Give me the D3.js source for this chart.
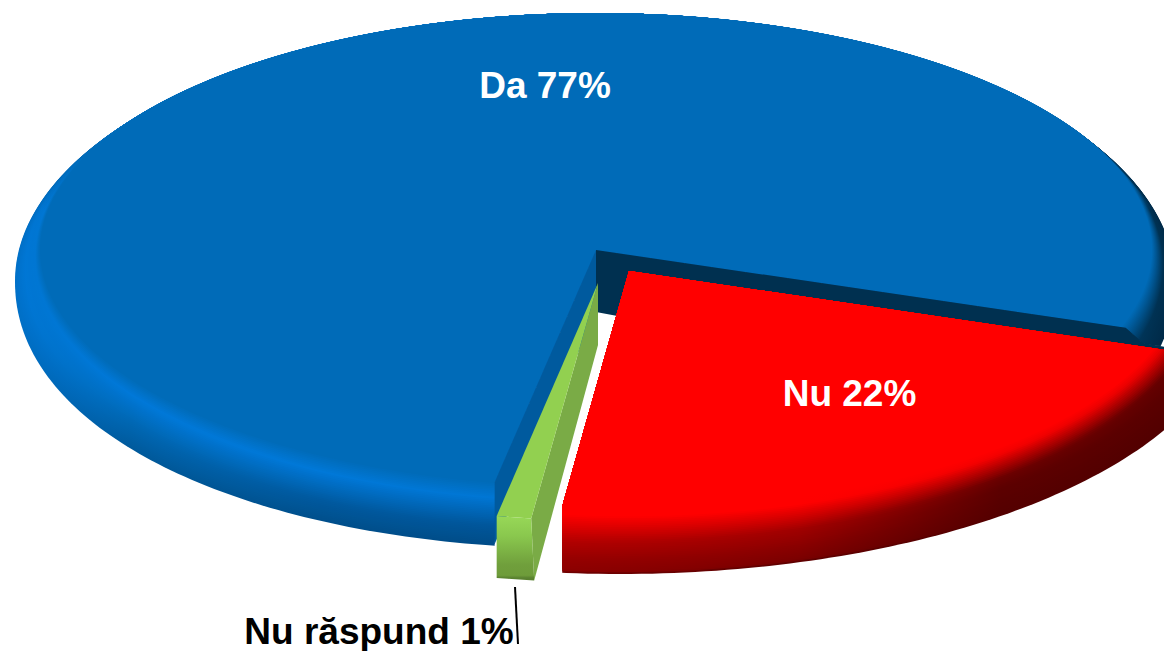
<!DOCTYPE html>
<html>
<head>
<meta charset="utf-8">
<script src="https://cdn.jsdelivr.net/npm/d3@7"></script>
<style>
html,body{margin:0;padding:0;background:#fff;overflow:hidden}
svg{display:block}
text{font-family:"Liberation Sans",Arial,sans-serif;font-weight:700}
</style>
</head>
<body>
<svg id="c" width="1164" height="651"></svg>
<script>
// ---- data ----
const categories = ["Da", "Nu", "Nu răspund"];
const values = [77, 22, 1];
const labelTexts = ["Da 77%", "Nu 22%", "Nu răspund 1%"];
const labelColors = ["#ffffff", "#ffffff", "#000000"];
const labelX = [545, 849.5, 379];
const labelY = [98, 405.5, 644];
const leaderLine = [[515, 587], [518, 644]];

const W = 1164, H = 651, LAYERS = 36;
const rad = d => d * Math.PI / 180;
const svg = d3.select("#c");
const defs = svg.append("defs");

// pie angles (0 = top, clockwise), rotated so that "Nu" starts lower right
const pie = d3.pie().sort(null).value(d => d)
  .startAngle(rad(-169.5)).endAngle(rad(190.5));
const arcs = pie(values);

// projection of each (exploded) slice: flat face -> outer silhouette
const blueShape  = { flat:{cx:596,cy:250,rx:556,ry:237}, rim:{cx:595,cy:281,rx:580,ry:268} };
const redShape   = { flat:{cx:629,cy:271,rx:556,ry:238}, rim:{cx:620,cy:302,rx:617,ry:272} };
const greenFlat  = { cx:598, cy:283, rx:556, ry:238 };
const shear = 6, wallDepth = 62, greenLean = 3;

const lerp = d3.interpolateNumber;
const edge = (g, a, r = 1) => [
  g.cx + r * g.rx * Math.sin(a),
  g.cy + r * (-g.ry * Math.cos(a) + shear * Math.sin(a))
];
const line = d3.line();
const loop = d3.line().curve(d3.curveLinearClosed);

function layerPath(s, t, lowerExp) {
  const cx = lerp(s.flat.cx, s.rim.cx)(t), cy = lerp(s.flat.cy, s.rim.cy)(t),
        rx = lerp(s.flat.rx, s.rim.rx)(t), ry = lerp(s.flat.ry, s.rim.ry)(t);
  const n = 2 + lowerExp * t;
  const pts = d3.range(0, 360, 1).map(d => {
    const a = rad(d), sx = Math.sin(a), cy0 = Math.cos(a);
    if (cy0 >= 0) return [cx + rx * sx, cy - ry * cy0];
    const e = 2 / n;
    return [cx + rx * Math.sign(sx) * Math.pow(Math.abs(sx), e),
            cy + ry * Math.pow(Math.abs(cy0), e)];
  });
  return loop(pts);
}

function ramp(stops) {
  return d3.scaleLinear().domain(stops.map(d => d[0])).range(stops.map(d => d[1]))
    .interpolate(d3.interpolateRgb).clamp(true);
}
function paintLayers(g, id, s, columns, lowerExp) {
  d3.range(LAYERS, -1, -1).forEach(i => {
    const t = i / LAYERS;
    const gid = id + "-" + i;
    const lg = defs.append("linearGradient").attr("id", gid)
      .attr("gradientUnits", "userSpaceOnUse")
      .attr("x1", 0).attr("y1", 0).attr("x2", W).attr("y2", 0);
    columns.forEach(c => {
      lg.append("stop").attr("offset", c.x / W).attr("stop-color", ramp(c.stops)(t));
    });
    g.append("path").attr("d", layerPath(s, t, lowerExp)).attr("fill", `url(#${gid})`);
  });
}

// ---- angles from the pie ----
const [daArc, nuArc, nrArc] = arcs;
const rightA = nuArc.startAngle;               // shared edge Da / Nu
const redLeftA = nuArc.endAngle;
const greenRightA = nrArc.startAngle, greenLeftA = nrArc.endAngle;

// ---- blue slice ----
const bf = blueShape.flat;
const bRight = edge(bf, rightA), bLeft = edge(bf, greenLeftA);
const rimCorner = [bRight[0] + 17, bRight[1] + 15];
const rimEnd = [W + 10, bRight[1] + 21];
defs.append("clipPath").attr("id", "clipBlue").append("path").attr("d", loop([
  [bf.cx, bf.cy], bRight, rimCorner, rimEnd, [W + 300, rimEnd[1]], [W + 300, -100], [-100, -100], [-100, H + 100],
  [bLeft[0], H + 100], bLeft
]));
const blueCols = [
  {x:15,  stops:[[0,"#006bb8"],[.2,"#0076d2"],[.6,"#0078d8"],[1,"#0070c8"]]},
  {x:130, stops:[[0,"#006bb8"],[.22,"#0078d8"],[.62,"#0068b4"],[1,"#005a9c"]]},
  {x:320, stops:[[0,"#006bb8"],[.25,"#0078d8"],[.7,"#00599e"],[1,"#004f8c"]]},
  {x:500, stops:[[0,"#006bb8"],[.25,"#0076d4"],[.7,"#00569a"],[1,"#004c88"]]},
  {x:1000,stops:[[0,"#006bb8"],[.2,"#005c9c"],[1,"#003a60"]]},
  {x:1164,stops:[[0,"#006bb8"],[.15,"#005a9a"],[.5,"#003050"],[1,"#002a48"]]}
];
const gBlue = svg.append("g").attr("clip-path", "url(#clipBlue)");
paintLayers(gBlue, "b", blueShape, blueCols, .1);

// the bevel fades out towards the far (upper) side of the disc
const fade = defs.append("linearGradient").attr("id", "topFade")
  .attr("gradientUnits", "userSpaceOnUse").attr("x1", 0).attr("x2", 0).attr("y1", 150).attr("y2", 210);
fade.append("stop").attr("offset", 0).attr("stop-color", "#006bb8").attr("stop-opacity", 1);
fade.append("stop").attr("offset", 1).attr("stop-color", "#006bb8").attr("stop-opacity", 0);
svg.append("ellipse")
  .attr("cx", blueShape.rim.cx - 1).attr("cy", blueShape.rim.cy)
  .attr("rx", blueShape.rim.rx - 1.2).attr("ry", blueShape.rim.ry - .6)
  .attr("fill", "url(#topFade)").attr("clip-path", "url(#clipBlue)");

// walls of the cut in the blue slice
const apexB = [bf.cx, bf.cy];
svg.append("path").attr("fill", "#003050").attr("d", loop([
  apexB, bRight, rimCorner, rimEnd, [W + 10, bRight[1] + wallDepth + 30],
  [apexB[0], apexB[1] + wallDepth]
]));
svg.append("path").attr("fill", "#005a9e").attr("d", loop([
  apexB, bLeft, [bLeft[0], bLeft[1] + wallDepth], [apexB[0], apexB[1] + wallDepth]
]));

// ---- red slice ----
const rf = redShape.flat;
const rRightFar = edge(rf, rightA, 1.6), rLeft = edge(rf, redLeftA);
defs.append("clipPath").attr("id", "clipRed").append("path").attr("d", loop([
  [rf.cx, rf.cy], rRightFar, [W + 300, H + 100], [rLeft[0], H + 100], rLeft
]));
const redCols = [
  {x:560, stops:[[0,"#ff0000"],[.12,"#ff0000"],[.55,"#b00000"],[.8,"#960000"],[.97,"#8c0000"],[1,"#700000"]]},
  {x:800, stops:[[0,"#ff0000"],[.12,"#ff0000"],[.5,"#a00000"],[.8,"#860000"],[.97,"#7a0000"],[1,"#600000"]]},
  {x:1000,stops:[[0,"#ff0000"],[.1,"#f40000"],[.45,"#6a0000"],[.6,"#5c0000"],[1,"#540000"]]},
  {x:1164,stops:[[0,"#ff0000"],[.1,"#e80000"],[.4,"#640000"],[.6,"#5a0000"],[1,"#520000"]]}
];
const gRed = svg.append("g").attr("clip-path", "url(#clipRed)");
paintLayers(gRed, "r", redShape, redCols, 0);

// ---- green slice ----
const gApex = [greenFlat.cx, greenFlat.cy];
const gL = edge(greenFlat, greenLeftA), gR = edge(greenFlat, greenRightA);
const gArc = d3.range(0, 1.0001, .1).map(f => edge(greenFlat, greenLeftA + (greenRightA - greenLeftA) * f));
const down = (p, f = 1) => [p[0] + greenLean * f, p[1] + wallDepth];
const gf = defs.append("linearGradient").attr("id", "greenFront")
  .attr("gradientUnits", "userSpaceOnUse").attr("x1", 0).attr("x2", 0)
  .attr("y1", gL[1] - 3).attr("y2", gL[1] + wallDepth);
[[0,"#92d050"],[.06,"#97d757"],[.35,"#8ac84e"],[.8,"#709f3c"],[.96,"#6e9c3a"],[1,"#5a8230"]].forEach(d =>
  gf.append("stop").attr("offset", d[0]).attr("stop-color", d[1]));
svg.append("path").attr("fill", "#7aab46").attr("d", loop([gApex, gR, down(gR), [gApex[0], gApex[1] + wallDepth]]));
svg.append("path").attr("fill", "#92d050").attr("d", loop([gApex, ...gArc]));
svg.append("path").attr("fill", "url(#greenFront)").attr("d",
  loop([...gArc, ...gArc.map((p, i) => down(p, i / (gArc.length - 1))).reverse()]));

// ---- labels ----
svg.selectAll("text.lab").data(categories).join("text").attr("class", "lab")
  .attr("x", (d, i) => labelX[i]).attr("y", (d, i) => labelY[i])
  .attr("text-anchor", "middle").attr("font-size", 37)
  .attr("fill", (d, i) => labelColors[i]).text((d, i) => labelTexts[i]);
svg.append("path").attr("d", line(leaderLine)).attr("stroke", "#000").attr("stroke-width", 2).attr("fill", "none");
</script>
</body>
</html>
